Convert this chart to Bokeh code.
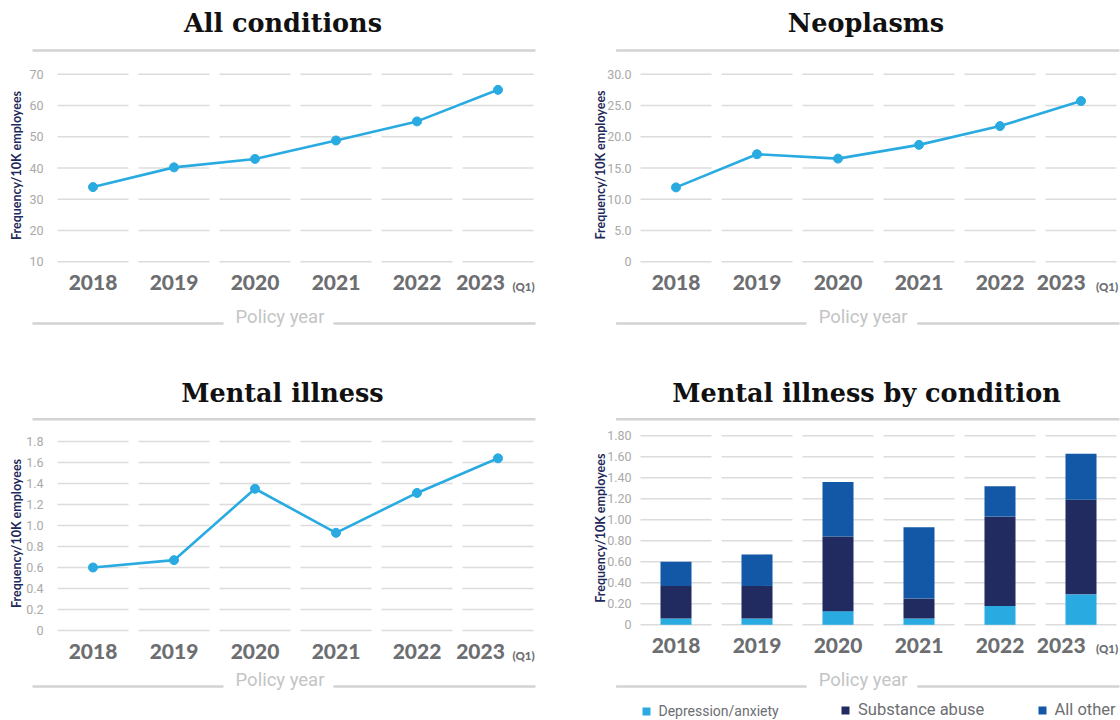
from bokeh.plotting import figure
from bokeh.layouts import row, column
from bokeh.models import (FixedTicker, BoxAnnotation, Label, Legend, LegendItem,
                          ColumnDataSource, Range1d)
from bokeh.embed import file_html
from bokeh.resources import INLINE

# ---- data -----------------------------------------------------------------
years = [2018, 2019, 2020, 2021, 2022, 2023]
year_labels = ["2018", "2019", "2020", "2021", "2022", "2023"]
partial_year_note = "(Q1)"
x_title = "Policy year"
y_title = "Frequency/10K employees"

all_conditions = [33.9, 40.2, 42.9, 48.8, 54.9, 65.0]
all_ticks = [10, 20, 30, 40, 50, 60, 70]
all_tick_labels = ["10", "20", "30", "40", "50", "60", "70"]

neoplasms = [11.9, 17.2, 16.5, 18.7, 21.7, 25.7]
neo_ticks = [0, 5, 10, 15, 20, 25, 30]
neo_tick_labels = ["0", "5.0", "10.0", "15.0", "20.0", "25.0", "30.0"]

mental_illness = [0.60, 0.67, 1.35, 0.93, 1.31, 1.64]
mental_ticks = [0, 0.2, 0.4, 0.6, 0.8, 1.0, 1.2, 1.4, 1.6, 1.8]
mental_tick_labels = ["0", "0.2", "0.4", "0.6", "0.8", "1.0", "1.2", "1.4", "1.6", "1.8"]

conditions = ["Depression/anxiety", "Substance abuse", "All other"]
depression_anxiety = [0.06, 0.06, 0.13, 0.06, 0.18, 0.29]
substance_abuse = [0.31, 0.31, 0.71, 0.19, 0.85, 0.90]
all_other = [0.23, 0.30, 0.52, 0.68, 0.29, 0.44]
cond_ticks = [0, 0.2, 0.4, 0.6, 0.8, 1.0, 1.2, 1.4, 1.6, 1.8]
cond_tick_labels = ["0", "0.20", "0.40", "0.60", "0.80", "1.00", "1.20", "1.40", "1.60", "1.80"]

# ---- styling --------------------------------------------------------------
LINE_BLUE = "#29abe2"
NAVY = "#222b5f"
MID_BLUE = "#1258a6"
GRID = "#dcdcdc"
RULE = "#d3d3d3"
YEAR_GREY = "#6d6e71"
TICK_GREY = "#a9a9a9"
XTITLE_GREY = "#c4c4c4"
YTITLE_NAVY = "#1f2a5c"
HEAVY_SANS = "'Lato Black', Lato"
PX_PER_YEAR = 81.0
GRID_HALF = 0.438
# the last year carries a note after it, so its label is padded to sit left
NOTE_PAD = "\u00a0" * 7


def build_panel(g, title, ticks, tick_labels):
    """One panel; the plotting area fills the whole figure and the axes sit at
    fixed positions inside it, so headings and rules can share the same space."""
    W, H = g["size"]
    (v_lo, py_lo), (v_hi, py_hi) = g["ycal"]
    k = (py_lo - py_hi) / (v_hi - v_lo)
    x_start = years[0] - g["x2018"] / PX_PER_YEAR
    x_end = x_start + W / PX_PER_YEAR
    y_start = v_lo - (H - py_lo) / k
    y_end = v_hi + py_hi / k

    def dx(px):
        return x_start + px / PX_PER_YEAR

    def dy(py):
        return y_start + (H - py) / k

    p = figure(width=W, height=H,
               x_range=Range1d(x_start, x_end), y_range=Range1d(y_start, y_end),
               min_border=0, output_backend="svg", toolbar_location=None,
               outline_line_color=None, background_fill_color="white",
               border_fill_color="white")
    p.grid.visible = False

    # broken horizontal gridlines, one piece per year column
    gx0, gx1, gy = [], [], []
    for t in ticks:
        for yr in years:
            gx0.append(yr - GRID_HALF)
            gx1.append(yr + GRID_HALF)
            gy.append(t)
    p.segment(x0=gx0, y0=gy, x1=gx1, y1=gy, line_color=GRID, line_width=1.5)

    yax = p.yaxis[0]
    yax.fixed_location = dx(g["yaxis_px"])
    yax.ticker = FixedTicker(ticks=ticks)
    yax.major_label_overrides = dict(zip(ticks, tick_labels))
    yax.axis_line_color = None
    yax.major_tick_line_color = None
    yax.minor_tick_line_color = None
    yax.major_label_standoff = 3
    yax.major_label_text_font = "Roboto"
    yax.major_label_text_font_size = "12.5px"
    yax.major_label_text_color = TICK_GREY

    xax = p.xaxis[0]
    xax.fixed_location = dy(g["xaxis_py"])
    xax.ticker = FixedTicker(ticks=years)
    labels = list(year_labels)
    labels[-1] = labels[-1] + NOTE_PAD
    xax.major_label_overrides = dict(zip(years, labels))
    xax.axis_line_color = None
    xax.major_tick_line_color = None
    xax.minor_tick_line_color = None
    xax.major_label_standoff = 3
    xax.major_label_text_font = HEAVY_SANS
    xax.major_label_text_font_style = "bold"
    xax.major_label_text_font_size = "21px"
    xax.major_label_text_color = YEAR_GREY

    # vertical axis title
    ytx, yty = g["ytitle"]
    p.add_layout(Label(x=dx(ytx), y=dy(yty), text=y_title, angle=90, angle_units="deg",
                       text_align="center", text_baseline="middle",
                       text_font="Lato", text_font_style="bold",
                       text_font_size="12.5px", text_color=YTITLE_NAVY))

    # heading and rules
    tx, ty = g["title"]
    p.add_layout(Label(x=dx(tx), y=dy(ty), text=title,
                       text_align="center", text_baseline="middle",
                       text_font="DejaVu Serif", text_font_style="bold",
                       text_font_size="25.5px", text_color="#111111"))

    def rule(xa, xb, yc):
        p.add_layout(BoxAnnotation(left=dx(xa), right=dx(xb),
                                   top=dy(yc - 1.2), bottom=dy(yc + 1.2),
                                   fill_color=RULE, fill_alpha=1.0,
                                   line_color=None, level="underlay"))

    rx0, rx1 = g["rule_x"]
    rule(rx0, rx1, g["top_rule_y"])
    gap0, gap1 = g["gap_x"]
    rule(rx0, gap0, g["bottom_rule_y"])
    rule(gap1, rx1, g["bottom_rule_y"])

    px, py = g["xtitle"]
    p.add_layout(Label(x=dx(px), y=dy(py), text=x_title, text_align="center",
                       text_baseline="middle", text_font="Roboto",
                       text_font_size="18.5px", text_color=XTITLE_GREY))
    qx, qy = g["q1"]
    p.add_layout(Label(x=dx(qx), y=dy(qy), text=partial_year_note, text_align="left",
                       text_baseline="middle", text_font=HEAVY_SANS,
                       text_font_style="bold",
                       text_font_size="11.5px", text_color=YEAR_GREY))
    return p


geo_tl = dict(size=(583, 368), x2018=92.5, yaxis_px=52, xaxis_py=259,
              ycal=((10, 261.3), (70, 73.7)), ytitle=(16.3, 165),
              title=(282.5, 22.5), rule_x=(32, 535), top_rule_y=50,
              gap_x=(223, 333), bottom_rule_y=323, xtitle=(279.5, 316), q1=(512, 286))
geo_tr = dict(size=(537, 368), x2018=92.5, yaxis_px=57, xaxis_py=259,
              ycal=((0, 261.3), (30, 73.7)), ytitle=(16.7, 164.5),
              title=(282.5, 22.5), rule_x=(32.6, 536), top_rule_y=50,
              gap_x=(223, 333.7), bottom_rule_y=323, xtitle=(279.6, 316), q1=(512.5, 286))
geo_bl = dict(size=(583, 352), x2018=92.5, yaxis_px=52, xaxis_py=260,
              ycal=((0, 262), (1.8, 73)), ytitle=(16.3, 165),
              title=(282, 24), rule_x=(32, 535), top_rule_y=50.8,
              gap_x=(223, 333), bottom_rule_y=318, xtitle=(279.5, 311.3), q1=(512, 287.3))
geo_br = dict(size=(537, 352), x2018=92.5, yaxis_px=57, xaxis_py=254,
              ycal=((0, 256.3), (1.8, 67.3)), ytitle=(16.7, 159.7),
              title=(283, 24.5), rule_x=(32.6, 536), top_rule_y=50.8,
              gap_x=(223, 333.7), bottom_rule_y=318, xtitle=(279.6, 311.3), q1=(512.5, 280.3))

# All conditions
p1 = build_panel(geo_tl, "All conditions", all_ticks, all_tick_labels)
p1.line(years, all_conditions, line_color=LINE_BLUE, line_width=2.6)
p1.scatter(years, all_conditions, size=9, fill_color=LINE_BLUE, line_color=LINE_BLUE)

# Neoplasms
p2 = build_panel(geo_tr, "Neoplasms", neo_ticks, neo_tick_labels)
p2.line(years, neoplasms, line_color=LINE_BLUE, line_width=2.6)
p2.scatter(years, neoplasms, size=9, fill_color=LINE_BLUE, line_color=LINE_BLUE)

# Mental illness
p3 = build_panel(geo_bl, "Mental illness", mental_ticks, mental_tick_labels)
p3.line(years, mental_illness, line_color=LINE_BLUE, line_width=2.6)
p3.scatter(years, mental_illness, size=9, fill_color=LINE_BLUE, line_color=LINE_BLUE)

# Mental illness by condition (stacked)
p4 = build_panel(geo_br, "Mental illness by condition", cond_ticks, cond_tick_labels)
src = ColumnDataSource(dict(year=years, dep=depression_anxiety,
                            sub=substance_abuse, other=all_other))
bars = p4.vbar_stack(["dep", "sub", "other"], x="year", width=0.383,
                     color=[LINE_BLUE, NAVY, MID_BLUE], line_width=0, source=src)

legend_spots = [(57.5, 1, "14px"), (257, 1, "16.5px"), (453.5, 1, "16.5px")]
for name, r, (lx, ly, fs) in zip(conditions, bars, legend_spots):
    lg = Legend(items=[LegendItem(label=name, renderers=[r])], location=(lx, ly),
                orientation="horizontal", glyph_width=10, glyph_height=10,
                label_standoff=8, padding=0, margin=0, spacing=0,
                border_line_color=None, background_fill_alpha=0,
                label_text_font="Roboto", label_text_font_size=fs,
                label_text_color=YEAR_GREY)
    p4.add_layout(lg)

layout = column(row(p1, p2), row(p3, p4))
open("out.html", "w").write(file_html(layout, INLINE))
